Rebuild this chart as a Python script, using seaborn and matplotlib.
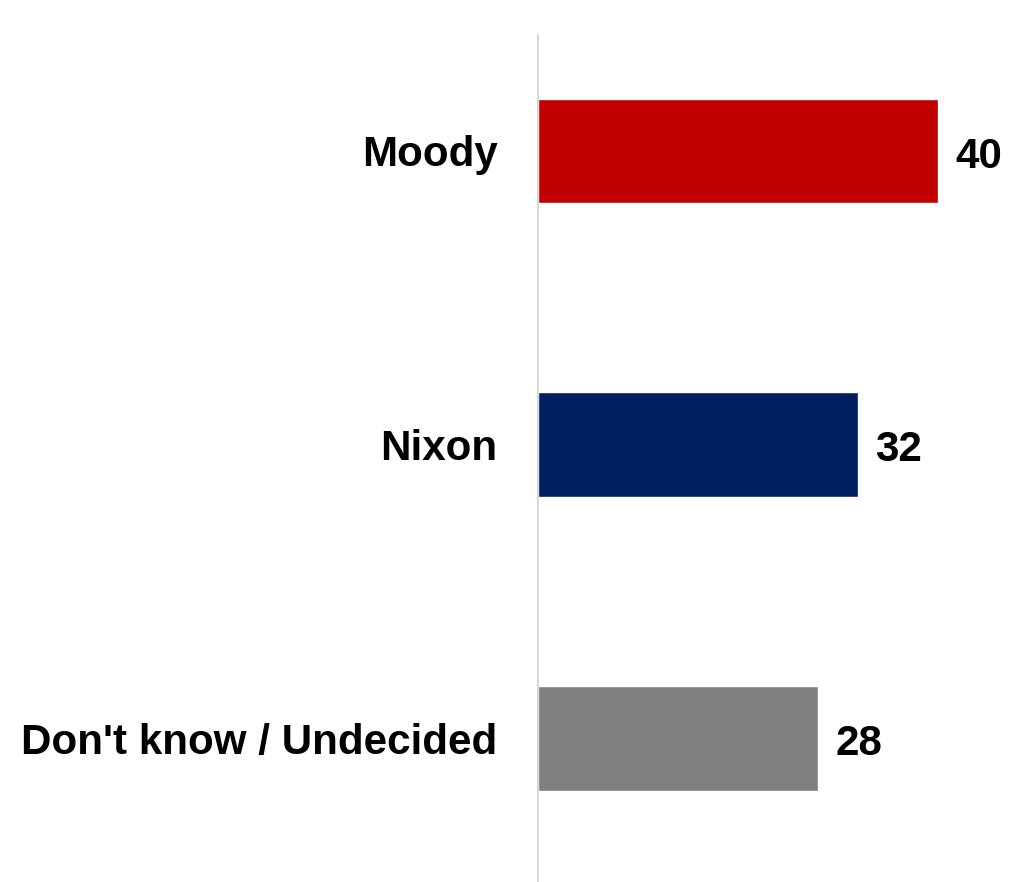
import matplotlib
matplotlib.use("Agg")
import matplotlib.pyplot as plt
import seaborn as sns
import pandas as pd

categories = ["Moody", "Nixon", "Don't know / Undecided"]
values = [40, 32, 28]
colors = ["#C00000", "#002060", "#808080"]

sns.set_style("white")
plt.rcParams['font.family'] = ['Liberation Sans', 'DejaVu Sans']

df = pd.DataFrame({"cat": categories, "val": values})

fig = plt.figure(figsize=(10.22, 8.82), dpi=100)
ax = fig.add_axes([538/1022, 0, (1022-538)/1022, 847/882])
sns.barplot(data=df, x="val", y="cat", hue="cat", palette=colors, order=categories,
            hue_order=categories, orient="h", width=0.357, legend=False, ax=ax, saturation=1)

ax.set_xlim(0, 48.4)
ax.set_ylim(2.49, -0.395)
ax.set_xlabel("")
ax.set_ylabel("")
ax.set_xticks([])
ax.set_yticks(range(len(categories)))
ax.set_yticklabels(categories, fontsize=30.3, fontweight="bold", color="#000000")
ax.tick_params(axis="y", length=0, pad=29)
for s in ["top", "right", "bottom"]:
    ax.spines[s].set_visible(False)
ax.spines["left"].set_color("#D9D9D9")
ax.spines["left"].set_linewidth(1.5)

for i, v in enumerate(values):
    ax.text(v + 1.7, i + 0.02, str(v), va="center", ha="left", fontsize=30.3,
            fontweight="bold", color="#000000")

fig.savefig("out.png", dpi=100)
